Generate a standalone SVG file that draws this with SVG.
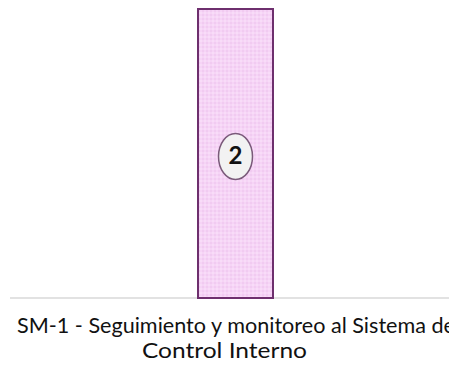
<svg xmlns="http://www.w3.org/2000/svg" width="449" height="366" viewBox="0 0 449 366">
  <style>
    .lbl { font-family: Lato, "Open Sans", "Liberation Sans", sans-serif; font-size: 21.5px; fill: #111111; }
    .num { font-family: Lato, "Open Sans", "Liberation Sans", sans-serif; font-size: 24px; font-weight: bold; fill: #111; }
  </style>
  <defs>
    <pattern id="dots" width="4" height="4" patternUnits="userSpaceOnUse">
      <rect width="4" height="4" fill="#f6d4f6"/>
      <circle cx="1" cy="1" r="0.8" fill="#fbe6fb"/>
      <circle cx="3" cy="3" r="0.8" fill="#ecc0ec"/>
    </pattern>
  </defs>
  <rect width="449" height="366" fill="#ffffff"/>
  <g id="baseline">
    <line x1="10" y1="298" x2="449" y2="298" stroke="#d9d9d9" stroke-width="1.5"/>
  </g>
  <g id="node-sm1">
    <rect x="198" y="9" width="75" height="289" fill="url(#dots)" stroke="#6e2f6e" stroke-width="2"/>
    <ellipse cx="235.5" cy="156.5" rx="17" ry="23" fill="#f2f2f2" stroke="#7a5a7a" stroke-width="1.5"/>
    <text class="num" x="235.5" y="164" text-anchor="middle">2</text>
  </g>
  <g id="caption">
    <text class="lbl" x="17" y="333" textLength="438" lengthAdjust="spacingAndGlyphs">SM-1 - Seguimiento y monitoreo al Sistema de</text>
    <text class="lbl" x="142" y="358" textLength="165" lengthAdjust="spacingAndGlyphs">Control Interno</text>
  </g>
</svg>
